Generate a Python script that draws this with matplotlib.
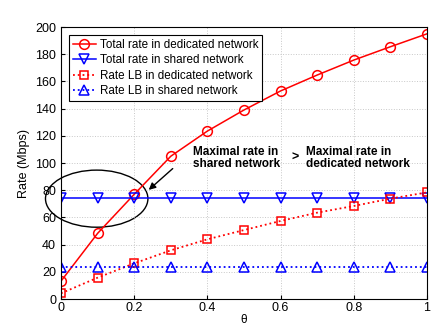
import matplotlib
matplotlib.use('Agg')
import matplotlib.pyplot as plt
from matplotlib.patches import Ellipse
import numpy as np

plt.rcParams['font.family'] = ['Liberation Sans', 'DejaVu Sans']

# data
theta = [0, 0.1, 0.2, 0.3, 0.4, 0.5, 0.6, 0.7, 0.8, 0.9, 1.0]
total_dedicated = [13.2, 48.3, 77, 105, 123.5, 139, 153, 164.7, 175.7, 185.5, 195]
total_shared = [74] * 11
lb_dedicated = [4.2, 15.7, 26.2, 35.8, 43.9, 50.7, 57.4, 63.5, 68.4, 73.8, 78.4]
lb_shared = [23.8] * 11

fig = plt.figure(figsize=(4.36, 3.27), dpi=100)
ax = fig.add_axes([0.14, 0.0856, 0.839, 0.8316])

ax.plot(theta, total_dedicated, 'r-o', mfc='none', ms=7, lw=1.1, mew=1.1,
        label='Total rate in dedicated network')
ax.plot(theta, total_shared, 'b-v', mfc='none', ms=7, lw=1.1, mew=1.1,
        label='Total rate in shared network')
ax.plot(theta, lb_dedicated, 'r:s', mfc='none', ms=6, lw=1.3, mew=1.1,
        label='Rate LB in dedicated network')
ax.plot(theta, lb_shared, 'b:^', mfc='none', ms=7, lw=1.3, mew=1.1,
        label='Rate LB in shared network')

ax.add_patch(Ellipse((0.0975, 73.8), 0.28, 42, fill=False, ec='black', lw=1.0,
                     clip_on=False))
ax.annotate('', xy=(0.234, 78.9), xytext=(0.311, 97.3),
            arrowprops=dict(arrowstyle='-|>', color='black', lw=1.0, mutation_scale=10))
ax.text(0.361, 104, 'Maximal rate in\nshared network', fontsize=8.5,
        fontweight='bold', va='center', ha='left', linespacing=1.0)
ax.text(0.64, 103.7, '>', fontsize=9, fontweight='bold', va='center', ha='center')
ax.text(0.671, 104, 'Maximal rate in\ndedicated network', fontsize=8.5,
        fontweight='bold', va='center', ha='left', linespacing=1.0)

ax.set_xlim(0, 1)
ax.set_ylim(0, 200)
ax.set_xticks([0, 0.2, 0.4, 0.6, 0.8, 1])
ax.set_xticklabels(['0', '0.2', '0.4', '0.6', '0.8', '1'])
ax.set_yticks(range(0, 201, 20))
ax.tick_params(direction='in', labelsize=9, length=3)
ax.tick_params(axis='x', pad=2)
ax.grid(True, linestyle=':', color='#c8c8c8', lw=0.7)
ax.set_xlabel('θ', fontsize=8.5, labelpad=0)
ax.set_ylabel('Rate (Mbps)', fontsize=9)

leg = ax.legend(loc='upper left', fontsize=8.4, fancybox=False, framealpha=1,
                edgecolor='black', handlelength=2.0, borderpad=0.3,
                labelspacing=0.3, handletextpad=0.3, borderaxespad=0.7)
leg.get_frame().set_linewidth(0.8)

fig.savefig('out.png', dpi=100)
